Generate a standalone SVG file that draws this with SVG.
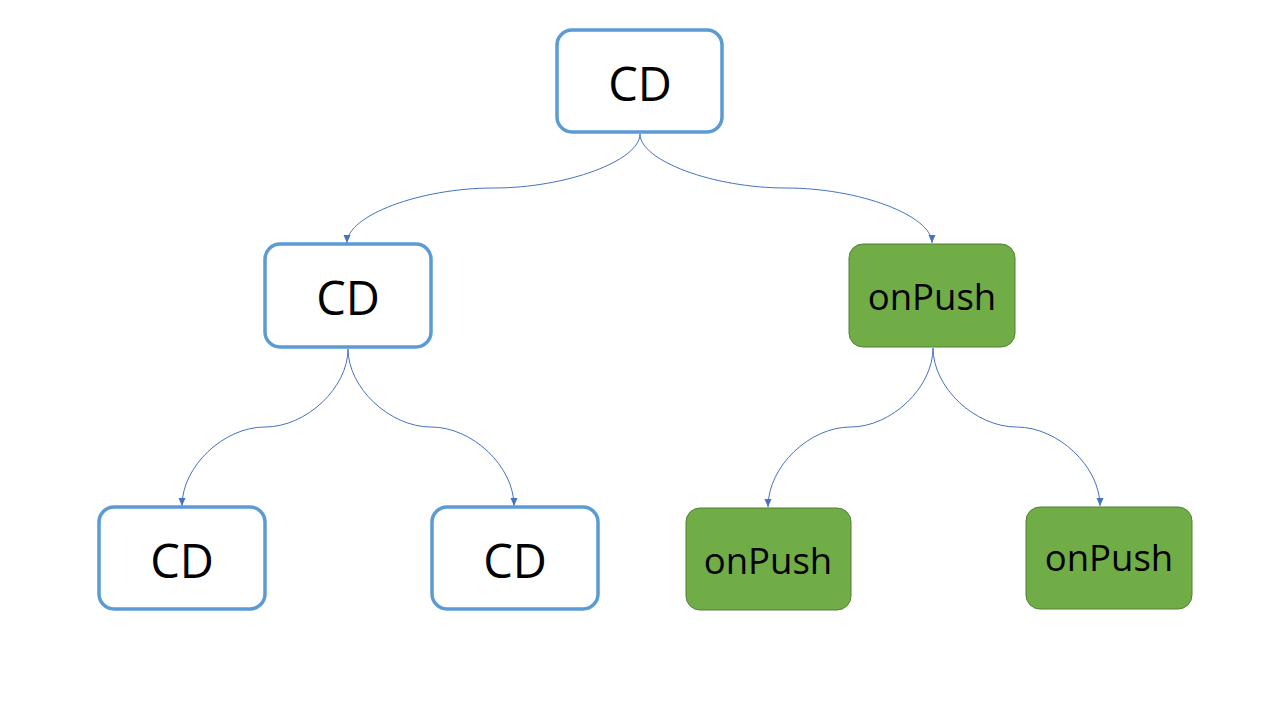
<svg xmlns="http://www.w3.org/2000/svg" width="1280" height="720" viewBox="0 0 1280 720">
<style>
.cd rect{fill:#ffffff;stroke:#5B9BD5;stroke-width:3.5}
.op rect{fill:#70AD47;stroke:#507E32;stroke-width:1}
.cd text{font-family:"Open Sans","Liberation Sans",sans-serif;font-size:47px;fill:#000;text-anchor:middle}
.op text{font-family:"Open Sans","Liberation Sans",sans-serif;font-size:36.5px;fill:#000;text-anchor:middle}
#connectors path{fill:none;stroke:#4472C4;stroke-width:1;marker-end:url(#arr)}
</style>
<defs>
<marker id="arr" markerUnits="userSpaceOnUse" markerWidth="10" markerHeight="10" viewBox="0 0 10 10" refX="9" refY="5" orient="auto">
<path d="M1,1.5 L9,5 L1,8.5 Z" fill="#4472C4"/>
</marker>
</defs>
<rect width="1280" height="720" fill="#ffffff"/>
<g id="connectors">
<path d="M640,134 C640,160.5 566.75,188 493.5,188 C420.25,188 347,215.5 347,243"/>
<path d="M640,134 C640,160.5 713,188 786,188 C859,188 932,215.5 932,243"/>
<path d="M348,349 C348,387.5 306.5,427 265,427 C223.5,427 182,466.5 182,506"/>
<path d="M348,349 C348,387.5 389.5,427 431,427 C472.5,427 514,466.5 514,506"/>
<path d="M933,348 C933,387.5 891.5,427 850.5,427 C809.5,427 768,466.5 768,507"/>
<path d="M933,348 C933,387.5 975,427 1016.5,427 C1058,427 1100,466.5 1100,506"/>
</g>
<g id="n_top" class="cd"><rect x="557" y="30" width="165" height="102" rx="15"/><text x="640" y="101">CD</text></g>
<g id="n_mid_left" class="cd"><rect x="265" y="244" width="166" height="103" rx="15"/><text x="348" y="315">CD</text></g>
<g id="n_mid_right" class="op"><rect x="849" y="244" width="166" height="103" rx="14"/><text x="932" y="310">onPush</text></g>
<g id="n_bot_1" class="cd"><rect x="99" y="507" width="166" height="102" rx="15"/><text x="182" y="578">CD</text></g>
<g id="n_bot_2" class="cd"><rect x="432" y="507" width="166" height="102" rx="15"/><text x="515" y="578">CD</text></g>
<g id="n_bot_3" class="op"><rect x="686" y="508" width="165" height="102" rx="14"/><text x="768" y="574">onPush</text></g>
<g id="n_bot_4" class="op"><rect x="1026" y="507" width="166" height="102" rx="14"/><text x="1109" y="571">onPush</text></g>
</svg>
